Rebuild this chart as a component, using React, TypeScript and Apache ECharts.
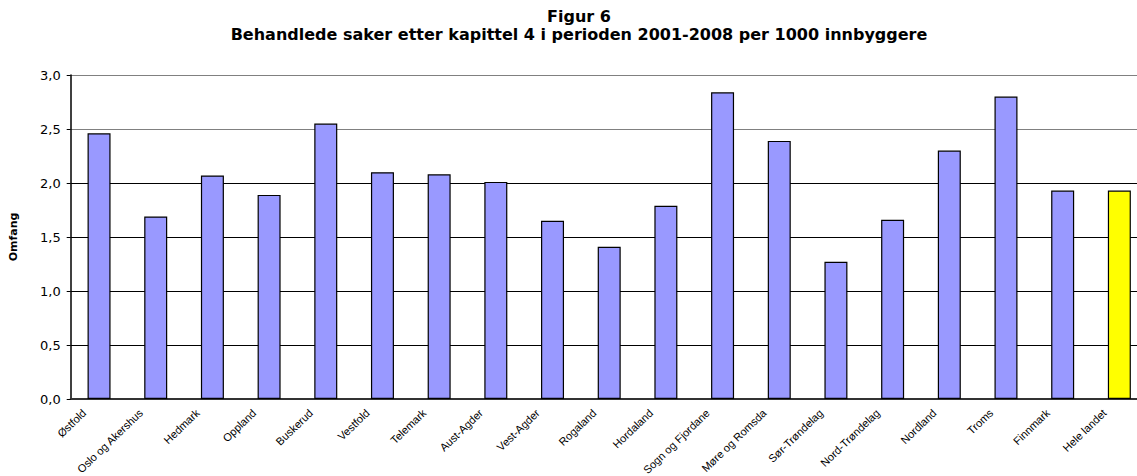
import React, { useEffect, useRef } from "react";
import * as echarts from "echarts";

const titleLines = [
  "Figur 6",
  "Behandlede saker etter kapittel 4 i perioden 2001-2008 per 1000 innbyggere",
];
const yAxisName = "Omfang";
const categories = [
  "Østfold",
  "Oslo og Akershus",
  "Hedmark",
  "Oppland",
  "Buskerud",
  "Vestfold",
  "Telemark",
  "Aust-Agder",
  "Vest-Agder",
  "Rogaland",
  "Hordaland",
  "Sogn og Fjordane",
  "Møre og Romsda",
  "Sør-Trøndelag",
  "Nord-Trøndelag",
  "Nordland",
  "Troms",
  "Finnmark",
  "Hele landet",
];
const values = [
  2.46, 1.69, 2.07, 1.89, 2.55, 2.1, 2.08, 2.01, 1.65, 1.41, 1.79, 2.84, 2.39,
  1.27, 1.66, 2.3, 2.8, 1.93, 1.93,
];
const highlighted = ["Hele landet"];
const yMin = 0;
const yMax = 3;
const yStep = 0.5;

export default function App() {
  const ref = useRef<HTMLDivElement>(null);
  useEffect(() => {
    if (!ref.current) return;
    const chart = echarts.init(ref.current, null, { renderer: "svg" });
    const option: any = {
      animation: false,
      backgroundColor: "#ffffff",
      title: {
        text: titleLines.join("\n"),
        left: 579,
        top: 7,
        padding: 0,
        textAlign: "center",
        textStyle: {
          fontFamily: "DejaVu Sans",
          fontWeight: "bold",
          fontSize: 16,
          lineHeight: 18,
          color: "#000",
        },
      },
      grid: {
        left: 70.7,
        top: 75,
        width: 1077,
        height: 324,
        outerBoundsMode: "none",
        containLabel: false,
      },
      xAxis: {
        type: "category",
        data: categories,
        axisLine: { lineStyle: { color: "#333", width: 2 } },
        axisTick: { show: false },
        axisLabel: {
          interval: 0,
          rotate: 44,
          margin: -10,
          align: "right",
          verticalAlign: "top",
          fontFamily: "Liberation Sans",
          fontSize: 11,
          color: "#000",
          formatter: (name: string) => `{t|${name}}{s| }`,
          rich: {
            t: { fontFamily: "Liberation Sans", fontSize: 11, color: "#000" },
            s: { width: 26, fontSize: 11 },
          },
        },
      },
      yAxis: {
        type: "value",
        min: yMin,
        max: yMax,
        interval: yStep,
        name: yAxisName,
        nameLocation: "middle",
        nameRotate: 90,
        nameGap: 52,
        nameTextStyle: {
          fontFamily: "DejaVu Sans",
          fontWeight: "bold",
          fontSize: 11,
          color: "#000",
        },
        axisLine: { show: true, lineStyle: { color: "#000", width: 1.5 } },
        axisTick: { show: true, length: 4, lineStyle: { color: "#000" } },
        axisLabel: {
          margin: 10,
          fontFamily: "DejaVu Sans",
          fontSize: 13,
          color: "#000",
          formatter: (v: number) => v.toFixed(1).replace(".", ","),
        },
        splitLine: {
          show: true,
          lineStyle: {
            color: ["#000", "#000", "#000", "#000", "#000", "#808080", "#808080"],
            width: 1.2,
          },
        },
      },
      series: [
        {
          type: "bar",
          barWidth: 23,
          data: values.map((v, i) =>
            highlighted.includes(categories[i])
              ? { value: v, itemStyle: { color: "#FFFF00" } }
              : v
          ),
          itemStyle: { color: "#9999FF", borderColor: "#000", borderWidth: 1.2 },
        },
      ],
    };
    chart.setOption(option);
    return () => chart.dispose();
  }, []);
  return (
    <div
      ref={ref}
      style={{ position: "fixed", left: 0, top: 0, width: 1137, height: 476 }}
    />
  );
}
